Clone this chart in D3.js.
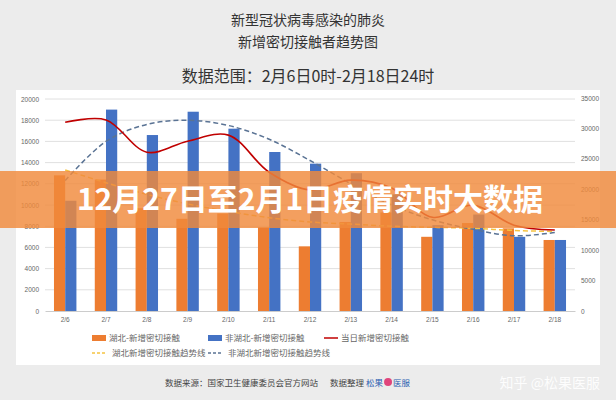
<!DOCTYPE html>
<html><head><meta charset="utf-8">
<script src="https://cdn.jsdelivr.net/npm/d3@7"></script>
<style>body{margin:0;background:#ececec;font-family:"Noto Sans CJK SC","Noto Sans",sans-serif}</style>
</head><body><div id="chart"></div>
<script>
const dates = ["2/6","2/7","2/8","2/9","2/10","2/11","2/12","2/13","2/14","2/15","2/16","2/17","2/18"];
const hubei = [12800,12400,9700,8700,9200,7900,6100,8400,9300,7000,8300,7800,6700];
const nonHubei = [10400,19000,16600,18800,17200,15000,13900,13000,11000,8100,9100,7000,6700];
const daily = [31000,31400,26100,27900,28900,22800,19900,21500,20200,15400,17400,14100,13300];
const hubeiTrend = [13300,12100,11000,10100,9400,8800,8400,8200,8000,7900,7800,7600,7500];
const nonHubeiTrend = [12300,16000,17600,18000,17500,16200,14200,12000,10000,8600,7700,7100,7400];
const leftTicks = [0,2000,4000,6000,8000,10000,12000,14000,16000,18000,20000];
const rightTicks = [0,5000,10000,15000,20000,25000,30000,35000];

const W = 616, H = 400;
const svg = d3.select("#chart").append("svg").attr("width", W).attr("height", H);
svg.append("rect").attr("width", W).attr("height", H).attr("fill", "#ececec");

// titles
svg.append("text").attr("x", 308).attr("y", 25).attr("text-anchor", "middle")
  .attr("font-size", 14).attr("fill", "#333").text("新型冠状病毒感染的肺炎");
svg.append("text").attr("x", 308).attr("y", 47).attr("text-anchor", "middle")
  .attr("font-size", 14).attr("fill", "#333").text("新增密切接触者趋势图");
svg.append("text").attr("x", 308).attr("y", 82).attr("text-anchor", "middle")
  .attr("font-size", 16).attr("fill", "#333").text("数据范围：2月6日0时-2月18日24时");

// white panel
svg.append("rect").attr("x", 16).attr("y", 90).attr("width", 584).attr("height", 275).attr("fill", "#fff");

const x = d3.scaleBand().domain(dates).range([45, 575]).paddingInner(0.45).paddingOuter(0.22);
const yL = d3.scaleLinear().domain([0, 20000]).range([311, 99]);
const yR = d3.scaleLinear().domain([0, 35000]).range([311, 98]);

// grid
svg.append("g").selectAll("line").data(leftTicks.slice(1)).join("line")
  .attr("x1", 45).attr("x2", 575).attr("y1", d => yL(d)).attr("y2", d => yL(d))
  .attr("stroke", "#e0e0e0");

const gl = svg.append("g").attr("transform", "translate(45,0)")
  .call(d3.axisLeft(yL).tickValues(leftTicks).tickFormat(d3.format("d")).tickSize(0).tickPadding(6));
gl.select(".domain").remove();
gl.selectAll("text").attr("font-size", 6.5).attr("fill", "#666");
const gr = svg.append("g").attr("transform", "translate(575,0)")
  .call(d3.axisRight(yR).tickValues(rightTicks).tickFormat(d3.format("d")).tickSize(0).tickPadding(6));
gr.select(".domain").remove();
gr.selectAll("text").attr("font-size", 6.5).attr("fill", "#666");
const gx = svg.append("g").attr("transform", "translate(0,311)")
  .call(d3.axisBottom(x).tickSize(0).tickPadding(6));
gx.select(".domain").attr("stroke", "#ccc");
gx.selectAll("text").attr("font-size", 6.5).attr("fill", "#666");

const bw = x.bandwidth() / 2;
svg.append("g").selectAll("rect").data(hubei).join("rect")
  .attr("x", (d, i) => x(dates[i])).attr("width", bw)
  .attr("y", d => yL(d)).attr("height", d => 311 - yL(d)).attr("fill", "#ed7d31");
svg.append("g").selectAll("rect").data(nonHubei).join("rect")
  .attr("x", (d, i) => x(dates[i]) + bw).attr("width", bw)
  .attr("y", d => yL(d)).attr("height", d => 311 - yL(d)).attr("fill", "#4472c4");

const cx = d => x(d) + x.bandwidth() / 2;
const lineL = d3.line().x((d, i) => cx(dates[i])).y(d => yL(d)).curve(d3.curveCatmullRom);
const lineR = d3.line().x((d, i) => cx(dates[i])).y(d => yR(d)).curve(d3.curveCatmullRom);
svg.append("path").attr("d", lineL(hubeiTrend)).attr("fill", "none")
  .attr("stroke", "#f5c342").attr("stroke-width", 1.5).attr("stroke-dasharray", "5,3");
svg.append("path").attr("d", lineL(nonHubeiTrend)).attr("fill", "none")
  .attr("stroke", "#5a7394").attr("stroke-width", 1.5).attr("stroke-dasharray", "5,3");
svg.append("path").attr("d", lineR(daily)).attr("fill", "none")
  .attr("stroke", "#c00000").attr("stroke-width", 1.6);

// legend
const lg = svg.append("g").attr("font-size", 8.5).attr("fill", "#666");
lg.append("rect").attr("x", 92).attr("y", 335).attr("width", 14).attr("height", 6).attr("fill", "#ed7d31");
lg.append("text").attr("x", 109).attr("y", 341).text("湖北-新增密切接触");
lg.append("rect").attr("x", 208).attr("y", 335).attr("width", 14).attr("height", 6).attr("fill", "#4472c4");
lg.append("text").attr("x", 225).attr("y", 341).text("非湖北-新增密切接触");
lg.append("line").attr("x1", 324).attr("x2", 338).attr("y1", 338).attr("y2", 338).attr("stroke", "#c00000").attr("stroke-width", 1.5);
lg.append("text").attr("x", 341).attr("y", 341).text("当日新增密切接触");
lg.append("line").attr("x1", 92).attr("x2", 106).attr("y1", 353).attr("y2", 353).attr("stroke", "#f5c342").attr("stroke-width", 1.5).attr("stroke-dasharray", "3,2");
lg.append("text").attr("x", 112).attr("y", 356).text("湖北新增密切接触趋势线");
lg.append("line").attr("x1", 208).attr("x2", 222).attr("y1", 353).attr("y2", 353).attr("stroke", "#5a7394").attr("stroke-width", 1.5).attr("stroke-dasharray", "3,2");
lg.append("text").attr("x", 228).attr("y", 356).text("非湖北新增密切接触趋势线");

// footer
const src = svg.append("text").attr("x", 165).attr("y", 386).attr("font-size", 8.5).attr("fill", "#444")
  .text("数据来源：国家卫生健康委员会官方网站");
let fx = 165 + src.node().getComputedTextLength() + 12;
const org = svg.append("text").attr("x", fx).attr("y", 386).attr("font-size", 8.5).attr("fill", "#444").text("数据整理");
fx += org.node().getComputedTextLength() + 2;
const sg = svg.append("text").attr("x", fx).attr("y", 386).attr("font-size", 8.5).attr("fill", "#2a5db0").text("松果");
fx += sg.node().getComputedTextLength() + 5;
svg.append("circle").attr("cx", fx).attr("cy", 382).attr("r", 4).attr("fill", "#e0457b");
svg.append("text").attr("x", fx + 5).attr("y", 386).attr("font-size", 8.5).attr("fill", "#2a5db0").text("医服");
svg.append("text").attr("x", 600).attr("y", 388).attr("text-anchor", "end").attr("font-size", 14)
  .attr("fill", "#fff").attr("opacity", 0.9).text("知乎 @松果医服");

// banner
svg.append("rect").attr("x", 0).attr("y", 171).attr("width", W).attr("height", 57)
  .attr("fill", "#f08a3c").attr("opacity", 0.82);
svg.append("text").attr("x", 310).attr("y", 210).attr("text-anchor", "middle")
  .attr("font-size", 30).attr("font-weight", "bold").attr("fill", "#fff")
  .text("12月27日至2月1日疫情实时大数据");
</script></body></html>
